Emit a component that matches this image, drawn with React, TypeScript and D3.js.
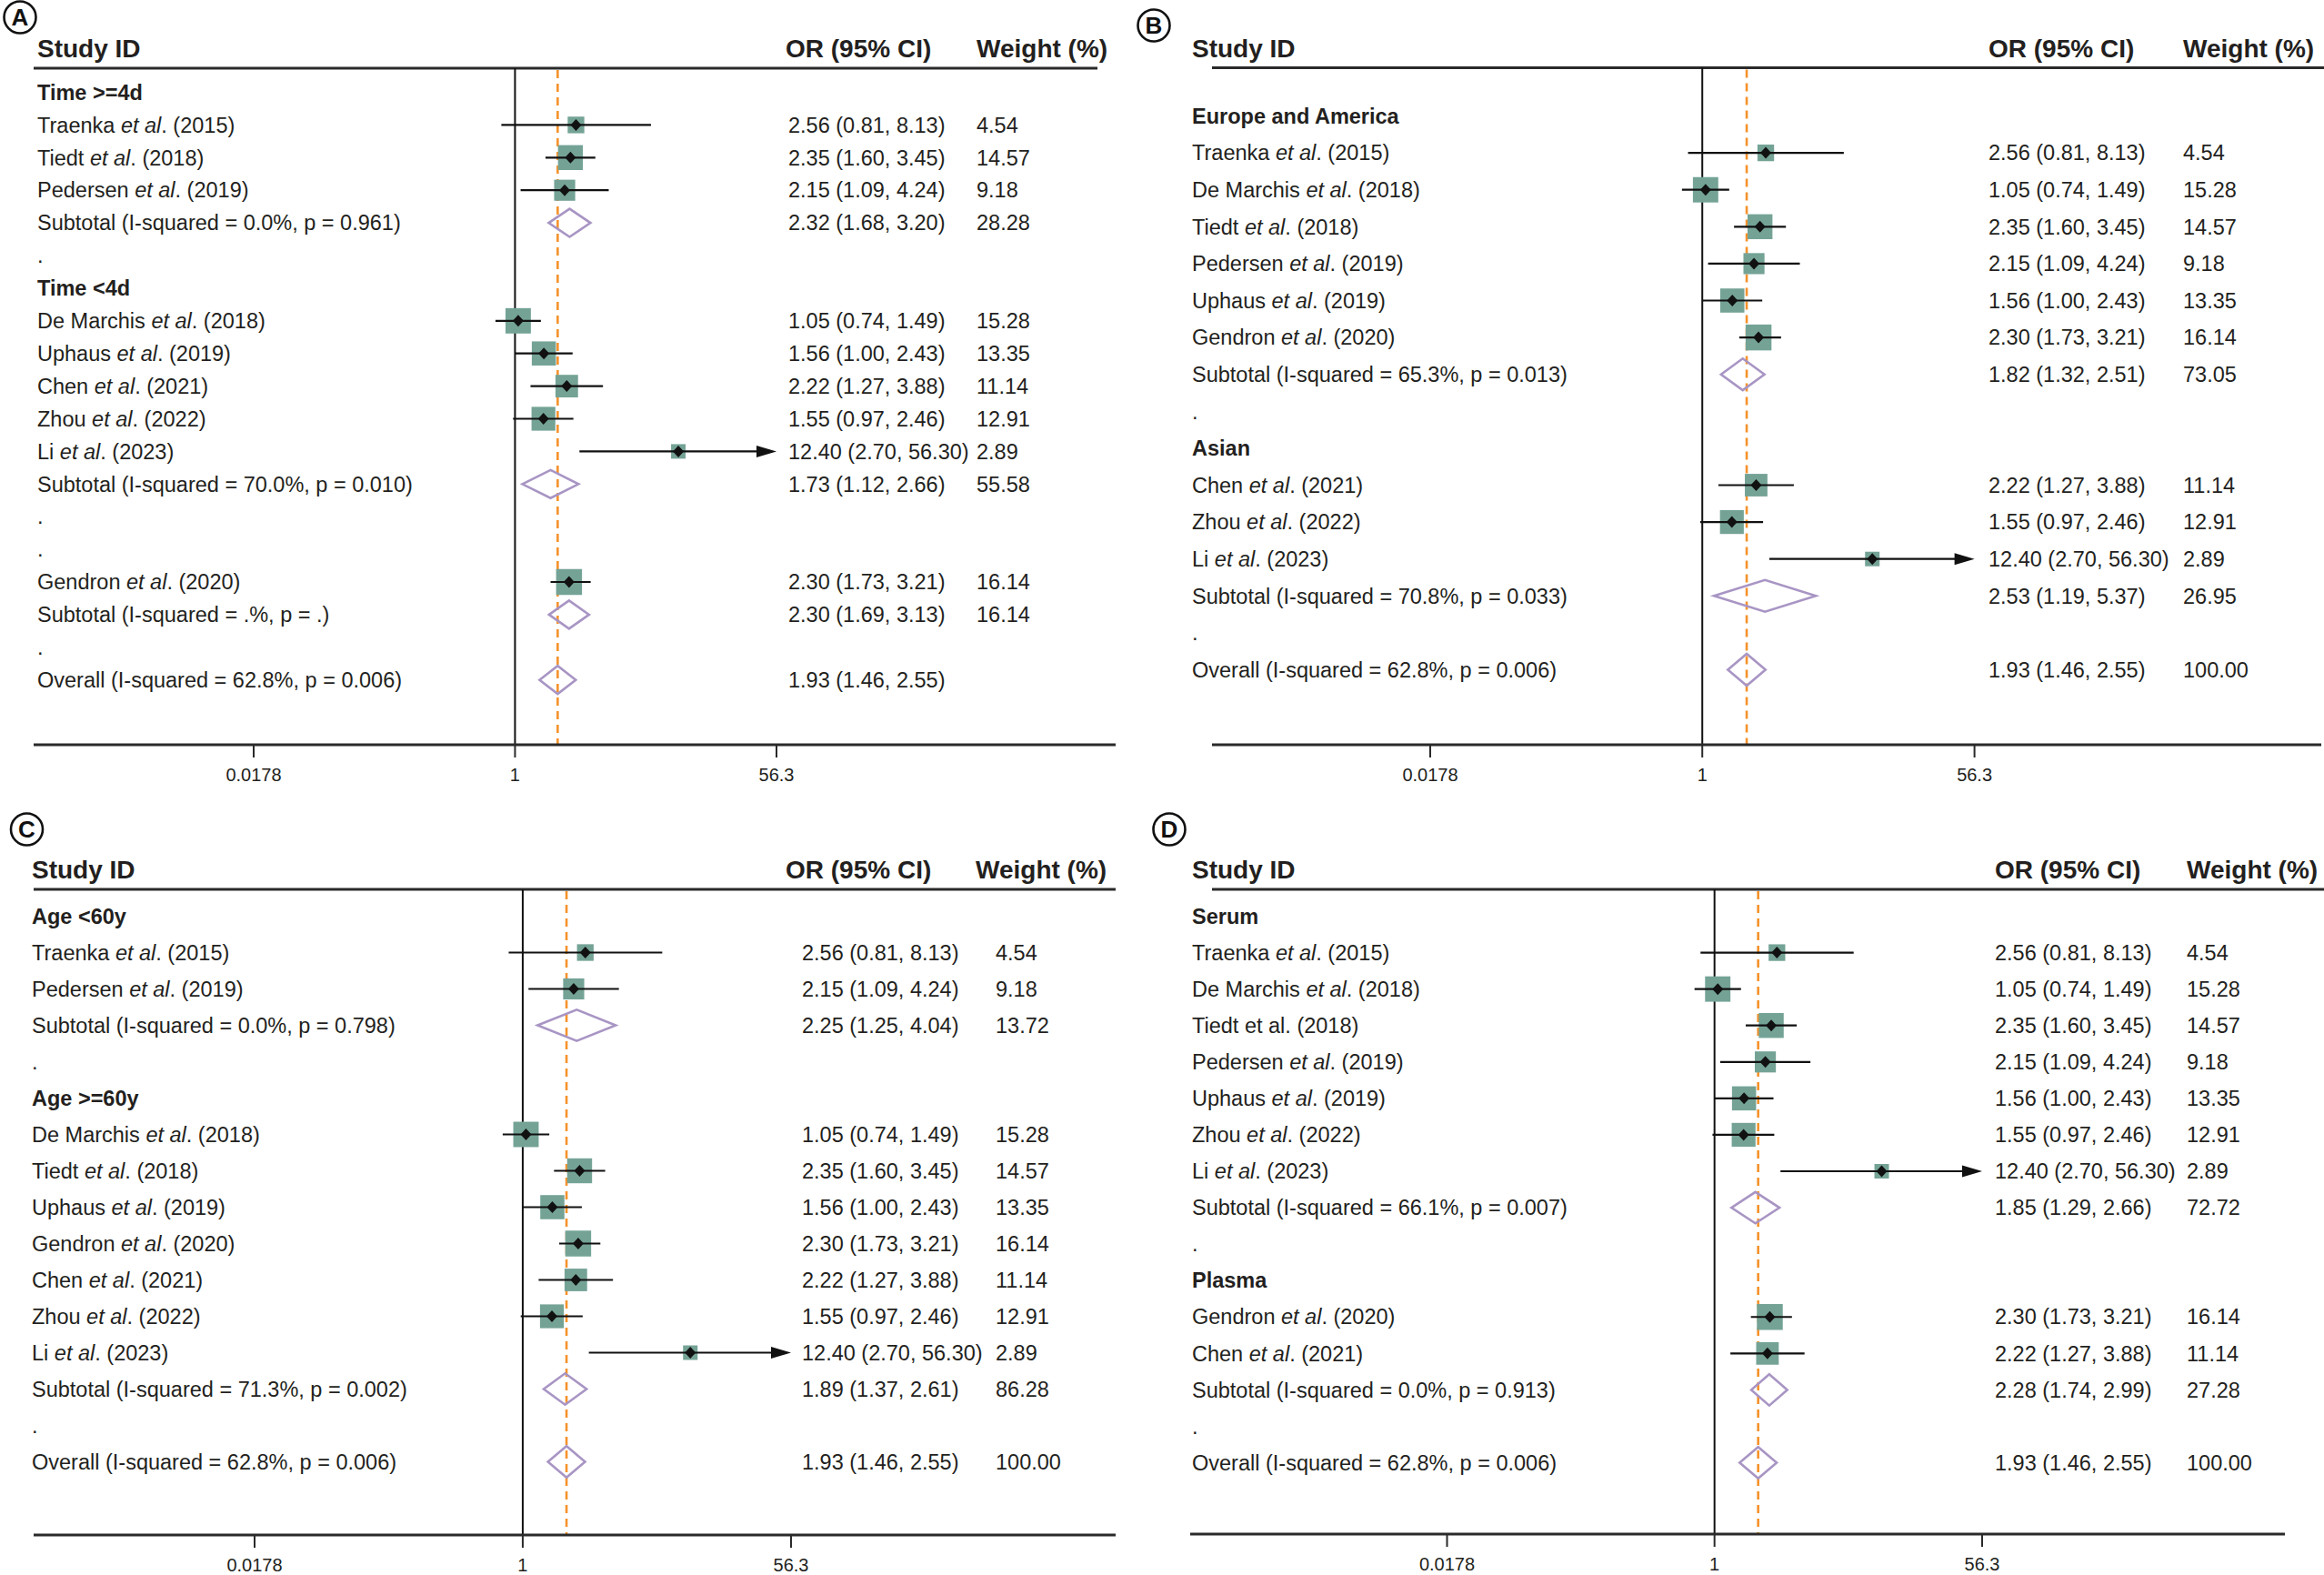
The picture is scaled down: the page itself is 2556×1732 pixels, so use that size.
import React from "react";
import * as d3 from "d3";

// ---------------- DATA ----------------
const studyNames = ["Traenka", "De Marchis", "Tiedt", "Pedersen", "Uphaus", "Gendron", "Chen", "Zhou", "Li"];
const studyYears = [2015, 2018, 2018, 2019, 2019, 2020, 2021, 2022, 2023];
const oddsRatios = [2.56, 1.05, 2.35, 2.15, 1.56, 2.3, 2.22, 1.55, 12.4];
const ciLower = [0.81, 0.74, 1.6, 1.09, 1.0, 1.73, 1.27, 0.97, 2.7];
const ciUpper = [8.13, 1.49, 3.45, 4.24, 2.43, 3.21, 3.88, 2.46, 56.3];
const studyWeights = [4.54, 15.28, 14.57, 9.18, 13.35, 16.14, 11.14, 12.91, 2.89];

const axisTicks = [0.0178, 1, 56.3];
const axisTickLabels = ["0.0178", "1", "56.3"];
const overallPooled = { text: "Overall (I-squared = 62.8%, p = 0.006)", or: 1.93, lo: 1.46, hi: 2.55, w: 100.0 };

type Row =
  | { kind: "group"; text: string }
  | { kind: "study"; name: string; plain?: boolean }
  | { kind: "sub"; text: string; or: number; lo: number; hi: number; w: number | null }
  | { kind: "dot" }
  | { kind: "overall"; showWeight: boolean };

const rowsTime: Row[] = [
  { kind: "group", text: "Time >=4d" },
  { kind: "study", name: "Traenka" },
  { kind: "study", name: "Tiedt" },
  { kind: "study", name: "Pedersen" },
  { kind: "sub", text: "Subtotal (I-squared = 0.0%, p = 0.961)", or: 2.32, lo: 1.68, hi: 3.2, w: 28.28 },
  { kind: "dot" },
  { kind: "group", text: "Time <4d" },
  { kind: "study", name: "De Marchis" },
  { kind: "study", name: "Uphaus" },
  { kind: "study", name: "Chen" },
  { kind: "study", name: "Zhou" },
  { kind: "study", name: "Li" },
  { kind: "sub", text: "Subtotal (I-squared = 70.0%, p = 0.010)", or: 1.73, lo: 1.12, hi: 2.66, w: 55.58 },
  { kind: "dot" },
  { kind: "dot" },
  { kind: "study", name: "Gendron" },
  { kind: "sub", text: "Subtotal (I-squared = .%, p = .)", or: 2.3, lo: 1.69, hi: 3.13, w: 16.14 },
  { kind: "dot" },
  { kind: "overall", showWeight: false },
];

const rowsRegion: Row[] = [
  { kind: "group", text: "Europe and America" },
  { kind: "study", name: "Traenka" },
  { kind: "study", name: "De Marchis" },
  { kind: "study", name: "Tiedt" },
  { kind: "study", name: "Pedersen" },
  { kind: "study", name: "Uphaus" },
  { kind: "study", name: "Gendron" },
  { kind: "sub", text: "Subtotal (I-squared = 65.3%, p = 0.013)", or: 1.82, lo: 1.32, hi: 2.51, w: 73.05 },
  { kind: "dot" },
  { kind: "group", text: "Asian" },
  { kind: "study", name: "Chen" },
  { kind: "study", name: "Zhou" },
  { kind: "study", name: "Li" },
  { kind: "sub", text: "Subtotal (I-squared = 70.8%, p = 0.033)", or: 2.53, lo: 1.19, hi: 5.37, w: 26.95 },
  { kind: "dot" },
  { kind: "overall", showWeight: true },
];

const rowsAge: Row[] = [
  { kind: "group", text: "Age <60y" },
  { kind: "study", name: "Traenka" },
  { kind: "study", name: "Pedersen" },
  { kind: "sub", text: "Subtotal (I-squared = 0.0%, p = 0.798)", or: 2.25, lo: 1.25, hi: 4.04, w: 13.72 },
  { kind: "dot" },
  { kind: "group", text: "Age >=60y" },
  { kind: "study", name: "De Marchis" },
  { kind: "study", name: "Tiedt" },
  { kind: "study", name: "Uphaus" },
  { kind: "study", name: "Gendron" },
  { kind: "study", name: "Chen" },
  { kind: "study", name: "Zhou" },
  { kind: "study", name: "Li" },
  { kind: "sub", text: "Subtotal (I-squared = 71.3%, p = 0.002)", or: 1.89, lo: 1.37, hi: 2.61, w: 86.28 },
  { kind: "dot" },
  { kind: "overall", showWeight: true },
];

const rowsSample: Row[] = [
  { kind: "group", text: "Serum" },
  { kind: "study", name: "Traenka" },
  { kind: "study", name: "De Marchis" },
  { kind: "study", name: "Tiedt", plain: true },
  { kind: "study", name: "Pedersen" },
  { kind: "study", name: "Uphaus" },
  { kind: "study", name: "Zhou" },
  { kind: "study", name: "Li" },
  { kind: "sub", text: "Subtotal (I-squared = 66.1%, p = 0.007)", or: 1.85, lo: 1.29, hi: 2.66, w: 72.72 },
  { kind: "dot" },
  { kind: "group", text: "Plasma" },
  { kind: "study", name: "Gendron" },
  { kind: "study", name: "Chen" },
  { kind: "sub", text: "Subtotal (I-squared = 0.0%, p = 0.913)", or: 2.28, lo: 1.74, hi: 2.99, w: 27.28 },
  { kind: "dot" },
  { kind: "overall", showWeight: true },
];

// ---------------- LAYOUT ----------------
const FONT = "'Liberation Sans', Arial, Helvetica, sans-serif";
const TXT = "#231f20";
const BOX = "#74a396";
const PURPLE = "#a895c4";
const ORANGE = "#f5922b";

const panels = [
  { letter: "A", cx: 22, cy: 19, rows: rowsTime, labelX: 41, orHX: 864, orX: 867, wHX: 1074, wX: 1074, headerY: 63, topY: 75, topX0: 37, topX1: 1207, botY: 819, botX0: 37, botX1: 1227, xa: 279, xb: 854, row0: 101.5, step: 35.9 },
  { letter: "B", cx: 1269, cy: 28, rows: rowsRegion, labelX: 1311, orHX: 2187, orX: 2187, wHX: 2401, wX: 2401, headerY: 63, topY: 74.5, topX0: 1333, topX1: 2556, botY: 819, botX0: 1333, botX1: 2553, xa: 1573, xb: 2171.6, row0: 127.5, step: 40.6 },
  { letter: "C", cx: 29.5, cy: 912, rows: rowsAge, labelX: 35, orHX: 864, orX: 882, wHX: 1073, wX: 1095, headerY: 966, topY: 978, topX0: 37, topX1: 1227, botY: 1688, botX0: 37, botX1: 1227, xa: 280, xb: 870, row0: 1007.5, step: 40 },
  { letter: "D", cx: 1286, cy: 912, rows: rowsSample, labelX: 1311, orHX: 2194, orX: 2194, wHX: 2405, wX: 2405, headerY: 966, topY: 978, topX0: 1333, topX1: 2556, botY: 1687, botX0: 1309, botX1: 2513, xa: 1591.5, xb: 2180, row0: 1007.5, step: 40.07 },
];

const fmtCI = (or: number, lo: number, hi: number) => `${or.toFixed(2)} (${lo.toFixed(2)}, ${hi.toFixed(2)})`;

function Panel({ p }: { p: (typeof panels)[number] }) {
  const x = d3.scaleLog().domain([axisTicks[0], axisTicks[2]]).range([p.xa, p.xb]);
  const y = (i: number) => p.row0 + i * p.step;
  const fs = 23.5;
  const hh = 0.43 * p.step;
  const els: React.ReactNode[] = [];

  p.rows.forEach((r, i) => {
    const yy = y(i);
    const key = `${p.letter}-${i}`;
    if (r.kind === "group") {
      els.push(
        <text key={key} x={p.labelX} y={yy} dy="0.35em" fontSize={fs} fontWeight="bold" fill={TXT}>{r.text}</text>
      );
    } else if (r.kind === "dot") {
      els.push(<text key={key} x={p.labelX} y={yy} dy="0.35em" fontSize={fs} fill={TXT}>.</text>);
    } else if (r.kind === "study") {
      const k = studyNames.indexOf(r.name);
      const or = oddsRatios[k], lo = ciLower[k], hi = ciUpper[k], w = studyWeights[k];
      const side = 6.8 + 5.4 * Math.sqrt(w);
      const xo = x(or), xl = x(lo), xh = x(Math.min(hi, axisTicks[2]));
      const arrow = hi >= axisTicks[2];
      els.push(
        <g key={key}>
          <rect x={xo - side / 2} y={yy - side / 2} width={side} height={side} fill={BOX} />
          <line x1={xl} x2={arrow ? xh - 20 : xh} y1={yy} y2={yy} stroke="#111" strokeWidth={2.2} />
          {arrow && <path d={`M${xh - 22},${yy - 6.5} L${xh},${yy} L${xh - 22},${yy + 6.5} Z`} fill="#111" />}
          <path d={`M${xo - 6},${yy} L${xo},${yy - 6.5} L${xo + 6},${yy} L${xo},${yy + 6.5} Z`} fill="#111" />
          <text x={p.labelX} y={yy} dy="0.35em" fontSize={fs} fill={TXT}>
            {r.name}{" "}
            {r.plain ? <tspan>et al.</tspan> : <><tspan fontStyle="italic">et al</tspan><tspan>.</tspan></>}
            {` (${studyYears[k]})`}
          </text>
          <text x={p.orX} y={yy} dy="0.35em" fontSize={fs} fill={TXT}>{fmtCI(or, lo, hi)}</text>
          <text x={p.wX} y={yy} dy="0.35em" fontSize={fs} fill={TXT}>{w.toFixed(2)}</text>
        </g>
      );
    } else {
      const s = r.kind === "sub" ? r : { ...overallPooled, w: r.showWeight ? overallPooled.w : null };
      const xo = x(s.or), xl = x(s.lo), xh = x(s.hi);
      els.push(
        <g key={key}>
          <path d={`M${xl},${yy} L${xo},${yy - hh} L${xh},${yy} L${xo},${yy + hh} Z`} fill="none" stroke={PURPLE} strokeWidth={2.6} />
          <text x={p.labelX} y={yy} dy="0.35em" fontSize={fs} fill={TXT}>{s.text}</text>
          <text x={p.orX} y={yy} dy="0.35em" fontSize={fs} fill={TXT}>{fmtCI(s.or, s.lo, s.hi)}</text>
          {s.w !== null && <text x={p.wX} y={yy} dy="0.35em" fontSize={fs} fill={TXT}>{s.w.toFixed(2)}</text>}
        </g>
      );
    }
  });

  return (
    <g fontFamily={FONT}>
      {/* panel letter */}
      <circle cx={p.cx} cy={p.cy} r={17.5} fill="none" stroke="#111" strokeWidth={2.6} />
      <text x={p.cx} y={p.cy} dy="0.36em" textAnchor="middle" fontSize={26} fontWeight="bold" fill="#111">{p.letter}</text>
      {/* headers */}
      <text x={p.labelX} y={p.headerY} fontSize={28} fontWeight="bold" fill={TXT}>Study ID</text>
      <text x={p.orHX} y={p.headerY} fontSize={28} fontWeight="bold" fill={TXT}>OR (95% CI)</text>
      <text x={p.wHX} y={p.headerY} fontSize={28} fontWeight="bold" fill={TXT}>Weight (%)</text>
      <line x1={p.topX0} x2={p.topX1} y1={p.topY} y2={p.topY} stroke="#2a2a2a" strokeWidth={3} />
      {/* reference lines */}
      <line x1={x(1)} x2={x(1)} y1={p.topY} y2={p.botY} stroke="#111" strokeWidth={2} />
      <line x1={x(overallPooled.or)} x2={x(overallPooled.or)} y1={p.topY + 2} y2={p.botY} stroke={ORANGE} strokeWidth={2.6} strokeDasharray="9,6" />
      {els}
      {/* axis */}
      <line x1={p.botX0} x2={p.botX1} y1={p.botY} y2={p.botY} stroke="#2a2a2a" strokeWidth={3} />
      {axisTicks.map((t, j) => (
        <g key={j}>
          <line x1={x(t)} x2={x(t)} y1={p.botY} y2={p.botY + 14} stroke="#2a2a2a" strokeWidth={2} />
          <text x={x(t)} y={p.botY + 33} dy="0.35em" textAnchor="middle" fontSize={20} fill={TXT}>{axisTickLabels[j]}</text>
        </g>
      ))}
    </g>
  );
}

export default function App() {
  return (
    <svg width={2556} height={1732} viewBox="0 0 2556 1732" style={{ position: "absolute", left: 0, top: 0, background: "#fff" }}>
      <rect width={2556} height={1732} fill="#fff" />
      {panels.map((p) => (
        <Panel key={p.letter} p={p} />
      ))}
    </svg>
  );
}
